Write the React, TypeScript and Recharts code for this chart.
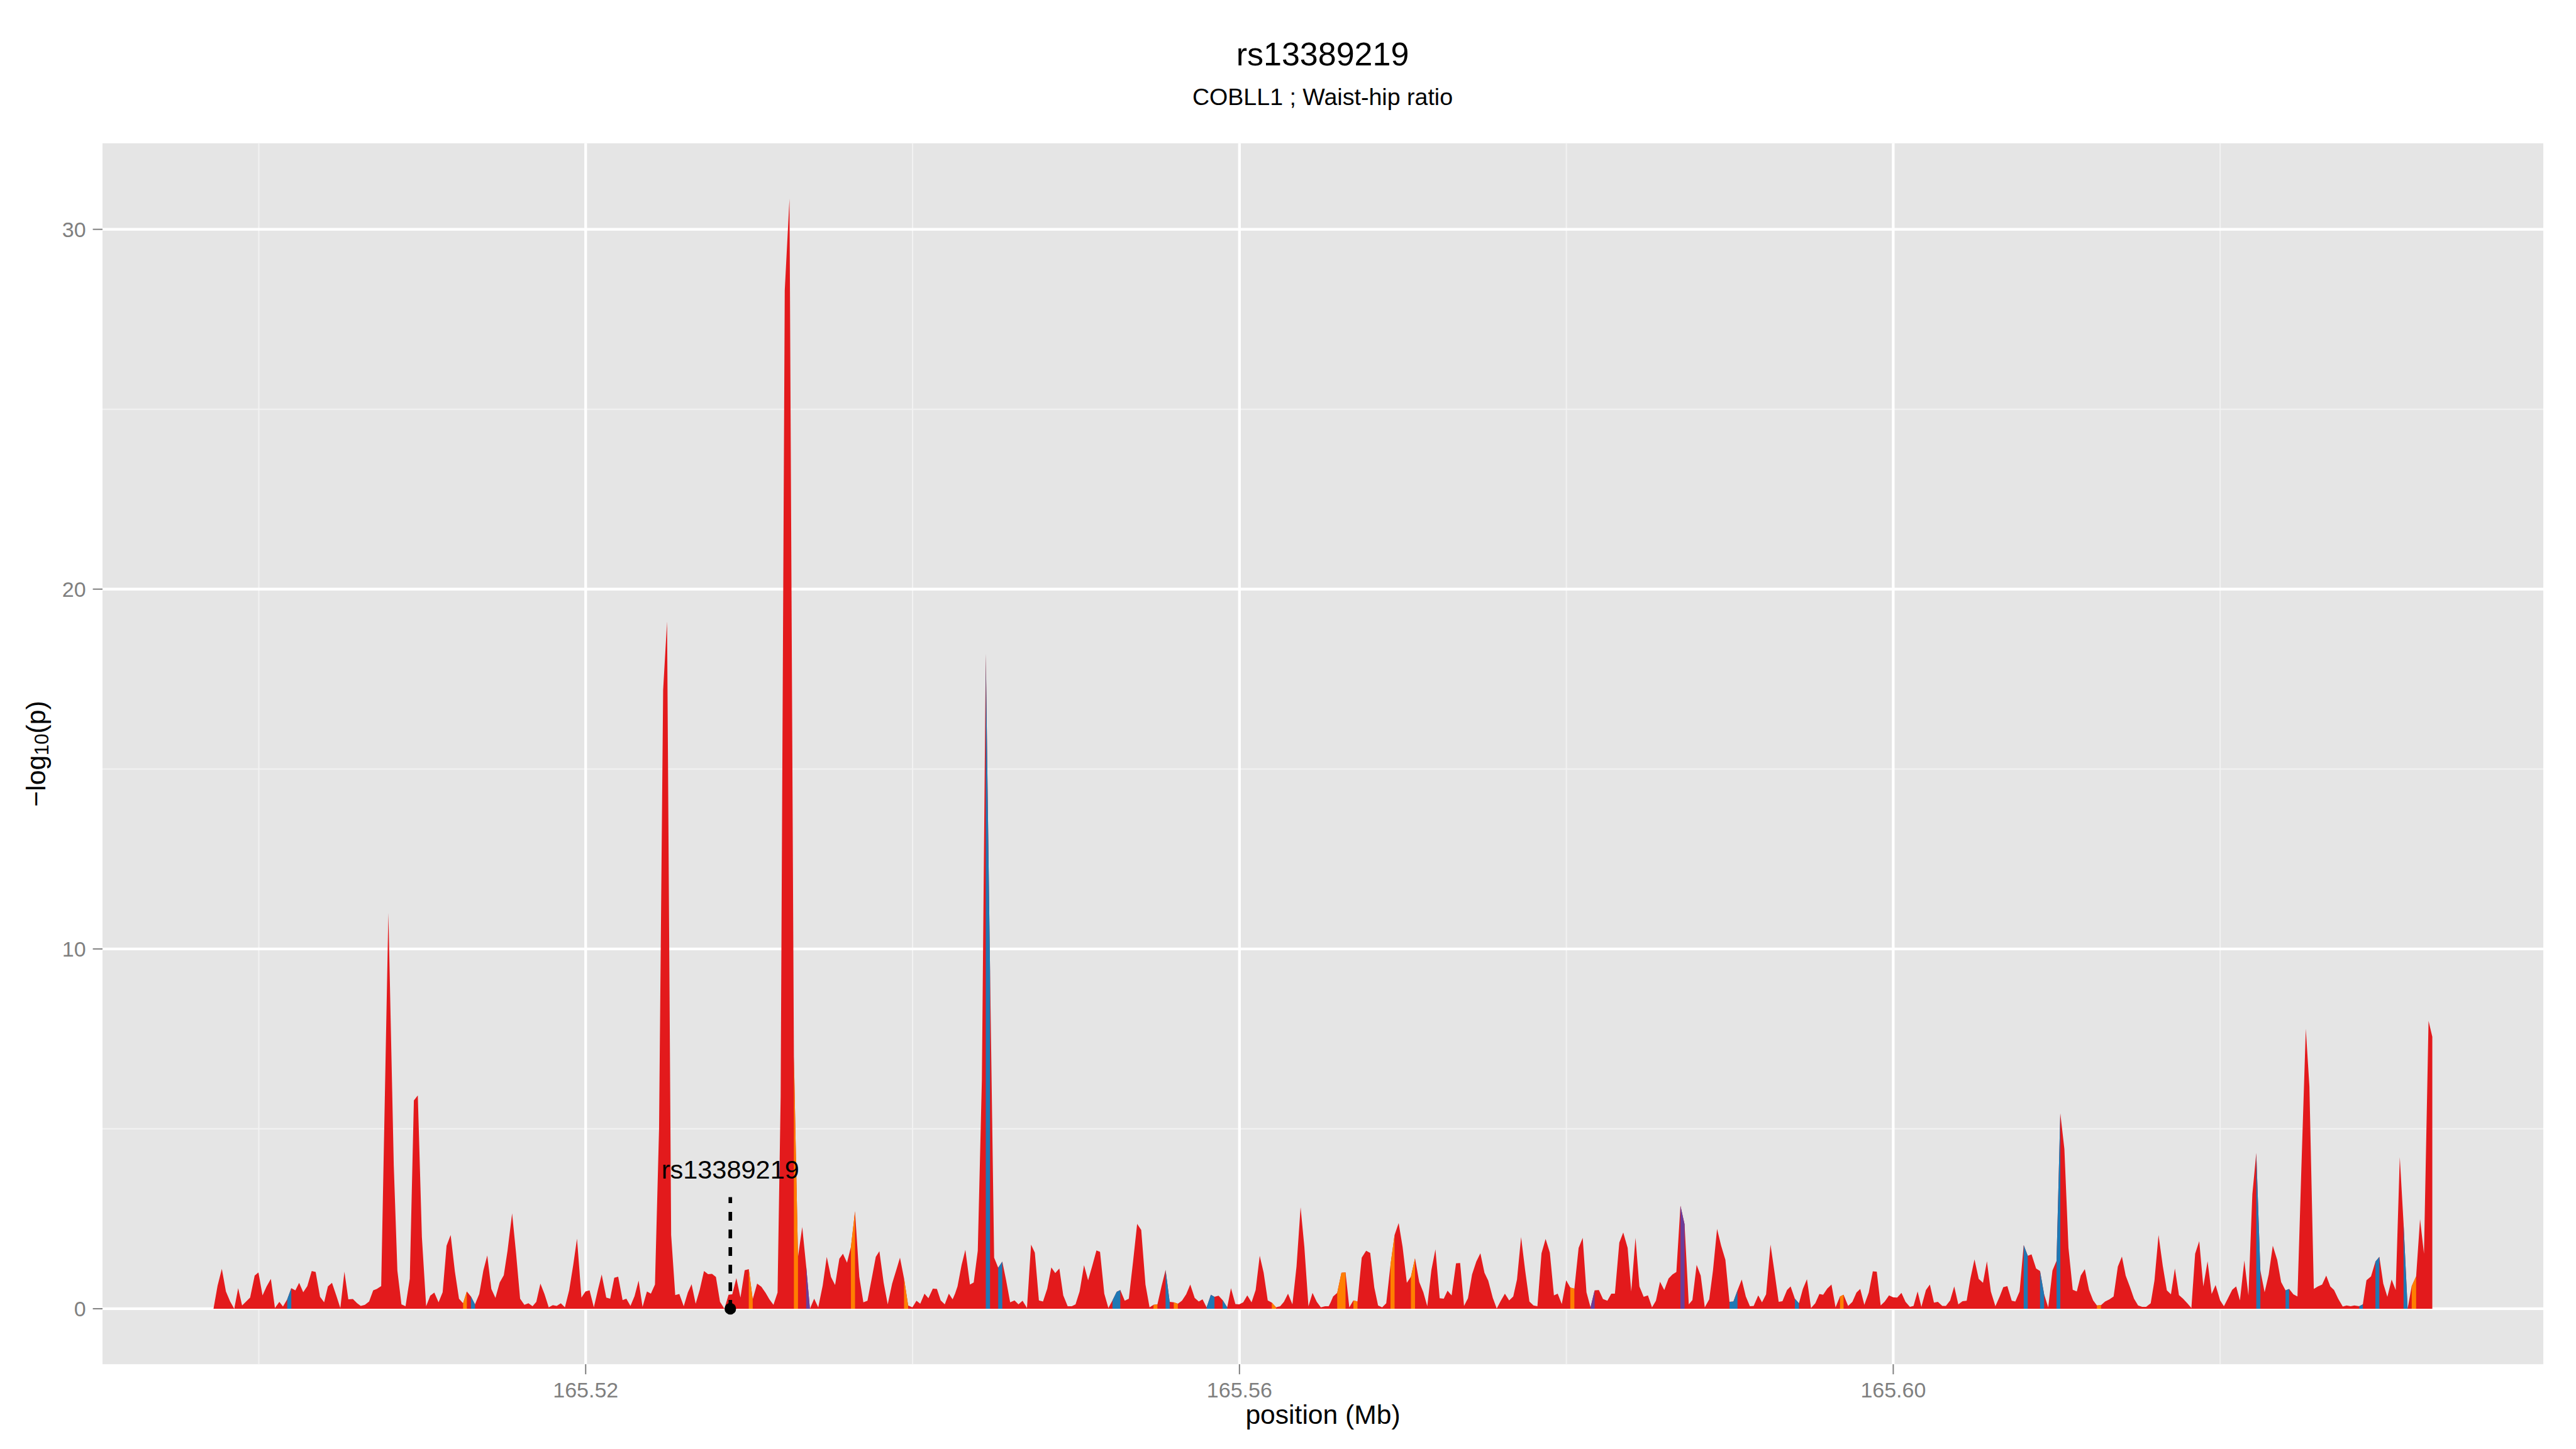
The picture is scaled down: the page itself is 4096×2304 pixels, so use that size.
import { Area, CartesianGrid, ComposedChart, ReferenceDot, ReferenceLine, XAxis, YAxis } from 'recharts';

const FONT = '"Liberation Sans", Arial, Helvetica, sans-serif';

const plotTitle = 'rs13389219';
const plotSubtitle = 'COBLL1 ; Waist-hip ratio';
const xTitle = 'position (Mb)';

// index SNP annotation
const indexSnp = 'rs13389219';
const indexPos = 165.52885;
const leaderTop = 3.1;
const labelY = 3.87;

const xTicks = [165.52, 165.56, 165.6];
const xMinor = [165.5, 165.54, 165.58, 165.62];
const yTicks = [0, 10, 20, 30];
const yMinor = [5, 15, 25];
const xDomain = [165.49044, 165.63977];
const yDomain = [-1.5425, 32.3925];

// [position (Mb), -log10(p)]
const snps: [number, number][] = [
  [165.49723, 0], [165.49748, 0.64], [165.49774, 1.11], [165.49799, 0.48], [165.49825, 0.2], [165.4985, 0],
  [165.49874, 0.57], [165.49898, 0.09], [165.49947, 0.31], [165.49975, 0.92], [165.49998, 1.01], [165.50023, 0.37],
  [165.50048, 0.62], [165.50074, 0.83], [165.50099, 0.02], [165.50126, 0.19], [165.50148, 0.06], [165.50174, 0.26],
  [165.50199, 0.57], [165.50224, 0.51], [165.50247, 0.72], [165.50272, 0.46], [165.50297, 0.63], [165.50324, 1.05],
  [165.50348, 1.02], [165.50375, 0.33], [165.504, 0.18], [165.50423, 0.62], [165.50448, 0.72], [165.50474, 0.37],
  [165.50499, 0.02], [165.50524, 1.03], [165.50548, 0.26], [165.50576, 0.27], [165.50602, 0.15], [165.50624, 0.08],
  [165.50649, 0.11], [165.50675, 0.2], [165.507, 0.51], [165.50722, 0.55], [165.50749, 0.63], [165.50793, 11.0],
  [165.50826, 3.98], [165.50848, 1.06], [165.50873, 0.12], [165.50898, 0.07], [165.50924, 0.84], [165.50949, 5.79],
  [165.50973, 5.93], [165.50998, 1.99], [165.51024, 0.07], [165.51049, 0.36], [165.51074, 0.45], [165.511, 0.18],
  [165.51125, 0.46], [165.51149, 1.75], [165.51174, 2.05], [165.512, 1.03], [165.51225, 0.28], [165.5125, 0.15],
  [165.51273, 0.48], [165.51298, 0.34], [165.51323, 0.12], [165.51349, 0.41], [165.51374, 1.06], [165.51398, 1.48],
  [165.51423, 0.55], [165.51448, 0.3], [165.51474, 0.73], [165.51499, 0.93], [165.51522, 1.61], [165.5155, 2.65],
  [165.51574, 1.55], [165.51599, 0.28], [165.51625, 0.11], [165.5165, 0.15], [165.51675, 0.07], [165.51698, 0.19],
  [165.51723, 0.7], [165.51748, 0.41], [165.51774, 0.04], [165.51799, 0.1], [165.51823, 0.08], [165.51848, 0.15],
  [165.51873, 0.04], [165.51899, 0.51], [165.51924, 1.22], [165.51947, 1.95], [165.51962, 1.06], [165.51974, 0.31],
  [165.51999, 0.48], [165.52024, 0.51], [165.5205, 0.04], [165.52075, 0.53], [165.52098, 0.95], [165.52126, 0.31],
  [165.5215, 0.28], [165.52175, 0.86], [165.52199, 0.89], [165.52226, 0.24], [165.52249, 0.28], [165.52274, 0.08],
  [165.52299, 0.35], [165.52324, 0.78], [165.52348, 0.05], [165.52375, 0.48], [165.52399, 0.42], [165.52424, 0.67],
  [165.52449, 5.0], [165.52474, 17.2], [165.52498, 19.1], [165.52523, 2.05], [165.52548, 0.38], [165.52573, 0.41],
  [165.526, 0.07], [165.52625, 0.45], [165.52648, 0.68], [165.52673, 0.14], [165.52698, 0.53], [165.52724, 1.05],
  [165.52749, 0.96], [165.52773, 0.97], [165.52797, 0.88], [165.52822, 0.19], [165.52849, 0], [165.52874, 0.39],
  [165.52897, 0.4], [165.52922, 0.85], [165.52947, 0.31], [165.52973, 1.07], [165.52998, 1.1], [165.53022, 0.26],
  [165.53049, 0.7], [165.53075, 0.61], [165.53101, 0.44], [165.53124, 0.26], [165.53149, 0.11], [165.53174, 0.45],
  [165.53193, 5.9], [165.53218, 28.3], [165.53247, 30.85], [165.53274, 7.0], [165.53299, 1.44], [165.53325, 2.27],
  [165.53349, 1.19], [165.53372, 0], [165.53398, 0.28], [165.53423, 0.04], [165.5345, 0.64], [165.53475, 1.44],
  [165.53501, 0.88], [165.53526, 0.66], [165.53552, 1.39], [165.53574, 1.53], [165.53599, 1.28], [165.53623, 1.72],
  [165.53648, 2.71], [165.53674, 0.89], [165.53699, 0.18], [165.53724, 0.22], [165.5375, 0.84], [165.53775, 1.44],
  [165.53797, 1.6], [165.53823, 0.73], [165.53848, 0.12], [165.53875, 0.7], [165.539, 1.07], [165.53923, 1.42],
  [165.53948, 0.84], [165.53973, 0.09], [165.53999, 0.04], [165.54024, 0.22], [165.54047, 0.14], [165.54073, 0.42],
  [165.54097, 0.29], [165.54124, 0.56], [165.54149, 0.55], [165.54172, 0.23], [165.54197, 0.12], [165.54222, 0.42],
  [165.54245, 0.26], [165.5426, 0.42], [165.54275, 0.62], [165.543, 1.22], [165.54323, 1.64], [165.54351, 0.67],
  [165.54374, 0.73], [165.54399, 1.61], [165.54424, 6.35], [165.54448, 18.2], [165.54474, 9.4], [165.54499, 1.42],
  [165.54524, 1.14], [165.54549, 1.31], [165.54572, 0.8], [165.54597, 0.18], [165.54624, 0.23], [165.54648, 0.12],
  [165.54673, 0.22], [165.547, 0.02], [165.54725, 1.78], [165.54748, 1.56], [165.54773, 0.23], [165.54798, 0.2],
  [165.54824, 0.56], [165.54849, 1.15], [165.54873, 0.99], [165.54898, 1.12], [165.54922, 0.37], [165.54949, 0.07],
  [165.54974, 0.07], [165.54997, 0.12], [165.55022, 0.48], [165.55049, 1.21], [165.55074, 0.79], [165.55098, 1.17],
  [165.55125, 1.62], [165.55147, 1.58], [165.55173, 0.42], [165.55198, 0.02], [165.55223, 0.23], [165.55249, 0.47],
  [165.55271, 0.52], [165.55298, 0.22], [165.55323, 0.28], [165.55349, 1.31], [165.55374, 2.36], [165.55399, 2.19],
  [165.55425, 0.67], [165.5545, 0.04], [165.55474, 0.11], [165.55498, 0.12], [165.55523, 0.62], [165.55548, 1.08],
  [165.55573, 0.19], [165.55598, 0.18], [165.55623, 0.14], [165.55648, 0.22], [165.55674, 0.4], [165.55699, 0.67],
  [165.55726, 0.3], [165.55751, 0.2], [165.55774, 0.26], [165.55799, 0.04], [165.55825, 0.39], [165.55847, 0.33],
  [165.55872, 0.36], [165.55897, 0.24], [165.55925, 0.04], [165.55948, 0.57], [165.55975, 0.13], [165.55998, 0.12],
  [165.56023, 0.18], [165.56048, 0.37], [165.56074, 0.18], [165.56099, 0.52], [165.56124, 1.47], [165.56148, 1.0],
  [165.56173, 0.23], [165.56198, 0.17], [165.56224, 0.04], [165.56249, 0.07], [165.56272, 0.19], [165.56297, 0.42],
  [165.56324, 0.12], [165.56349, 1.17], [165.56374, 2.82], [165.56397, 1.72], [165.56422, 0.07], [165.56447, 0.44],
  [165.56473, 0.19], [165.56498, 0.04], [165.56524, 0.07], [165.56546, 0.07], [165.56558, 0.18], [165.56573, 0.34],
  [165.56598, 0.44], [165.56624, 1.0], [165.56649, 1.01], [165.56672, 0.04], [165.56697, 0.23], [165.56722, 0.2],
  [165.56748, 1.42], [165.56775, 1.61], [165.568, 1.55], [165.56825, 0.59], [165.56848, 0.09], [165.56873, 0.04],
  [165.56898, 0.15], [165.56924, 1.22], [165.56949, 2.05], [165.56974, 2.38], [165.56998, 1.72], [165.57024, 0.72],
  [165.57049, 0.89], [165.57074, 1.4], [165.571, 0.74], [165.57125, 0.46], [165.57149, 0.07], [165.57174, 1.07],
  [165.57199, 1.65], [165.57225, 0.29], [165.5725, 0.28], [165.57273, 0.5], [165.57298, 0.37], [165.57325, 1.26],
  [165.5735, 1.27], [165.57374, 0.08], [165.57398, 0.29], [165.57423, 0.95], [165.57449, 1.31], [165.57474, 1.54],
  [165.57499, 1.0], [165.57522, 0.78], [165.5755, 0.3], [165.57574, 0.01], [165.57599, 0.22], [165.57624, 0.42],
  [165.5765, 0.23], [165.57675, 0.34], [165.57698, 0.81], [165.57723, 1.99], [165.57748, 1.06], [165.57774, 0.2],
  [165.57799, 0.09], [165.57823, 0.07], [165.57848, 1.54], [165.57873, 1.94], [165.57899, 1.56], [165.57924, 0.37],
  [165.57947, 0.42], [165.57972, 0.13], [165.57999, 0.79], [165.58024, 0.59], [165.58049, 0.56], [165.58075, 1.69],
  [165.581, 1.97], [165.58123, 0.46], [165.58148, 0.04], [165.58173, 0.51], [165.58199, 0.52], [165.58224, 0.27],
  [165.58251, 0.22], [165.58275, 0.42], [165.58297, 0.42], [165.58324, 1.84], [165.58348, 2.12], [165.58375, 1.69],
  [165.58397, 0.48], [165.58423, 1.97], [165.58447, 0.62], [165.58473, 0.33], [165.58499, 0.37], [165.58524, 0.04],
  [165.58548, 0.22], [165.58573, 0.75], [165.58599, 0.52], [165.58625, 0.84], [165.58649, 0.95], [165.58673, 1.02],
  [165.58698, 2.86], [165.58723, 2.35], [165.58749, 0.12], [165.58771, 0.24], [165.58797, 1.22], [165.58822, 0.92],
  [165.58847, 0.04], [165.58874, 0.26], [165.58897, 1.06], [165.58922, 2.22], [165.58947, 1.75], [165.58973, 1.36],
  [165.58998, 0.19], [165.59022, 0.2], [165.59047, 0.51], [165.59073, 0.81], [165.59098, 0.34], [165.59123, 0.07],
  [165.59146, 0.08], [165.59174, 0.37], [165.59197, 0.18], [165.59222, 0.4], [165.59249, 1.78], [165.59274, 1.0],
  [165.59299, 0.19], [165.59322, 0.21], [165.5935, 0.52], [165.59372, 0.62], [165.59398, 0.28], [165.59423, 0.15],
  [165.59447, 0.55], [165.59472, 0.82], [165.59497, 0.02], [165.59523, 0.15], [165.59548, 0.41], [165.59571, 0.39],
  [165.59596, 0.56], [165.59622, 0.67], [165.59647, 0.04], [165.59674, 0.34], [165.59696, 0.39], [165.59724, 0.08],
  [165.5975, 0.19], [165.59775, 0.45], [165.59798, 0.55], [165.59823, 0.11], [165.5985, 0.45], [165.59875, 1.04],
  [165.59899, 1.03], [165.59923, 0.09], [165.59948, 0.2], [165.59974, 0.37], [165.59999, 0.32], [165.60024, 0.31],
  [165.6005, 0.44], [165.60075, 0.19], [165.60102, 0.05], [165.60124, 0.08], [165.60149, 0.48], [165.60172, 0.05],
  [165.602, 0.52], [165.60224, 0.67], [165.60249, 0.17], [165.60273, 0.19], [165.603, 0.08], [165.60322, 0.08],
  [165.60348, 0.23], [165.60373, 0.62], [165.60398, 0.12], [165.60424, 0.21], [165.60449, 0.22], [165.60472, 0.84],
  [165.60497, 1.37], [165.60523, 0.83], [165.60549, 0.72], [165.60573, 1.32], [165.60597, 0.48], [165.60625, 0.07],
  [165.60652, 0.35], [165.60673, 0.6], [165.60698, 0.63], [165.60725, 0.22], [165.60747, 0.2], [165.60773, 0.48],
  [165.60798, 1.77], [165.60823, 1.47], [165.60846, 1.51], [165.60874, 1.12], [165.60898, 1.05], [165.60923, 0.4],
  [165.60948, 0.04], [165.60974, 1.06], [165.60999, 1.33], [165.61022, 5.43], [165.61047, 4.44], [165.61072, 1.69],
  [165.61098, 0.53], [165.61123, 0.48], [165.61147, 0.92], [165.61172, 1.1], [165.61198, 0.52], [165.61223, 0.23],
  [165.61246, 0.09], [165.61271, 0.1], [165.61296, 0.2], [165.61323, 0.26], [165.61348, 0.34], [165.61374, 1.17],
  [165.61399, 1.45], [165.61422, 0.92], [165.61447, 0.62], [165.61473, 0.28], [165.61498, 0.09], [165.61523, 0.05],
  [165.61547, 0.05], [165.61575, 0.15], [165.61598, 0.78], [165.61623, 2.05], [165.61649, 1.19], [165.61674, 0.51],
  [165.61699, 0.4], [165.61723, 1.12], [165.61748, 0.38], [165.61773, 0.28], [165.61799, 0.15], [165.61824, 0.02],
  [165.61847, 1.53], [165.61872, 1.88], [165.61897, 0.62], [165.61923, 1.32], [165.61948, 0.41], [165.61972, 0.66],
  [165.62, 0.23], [165.62023, 0.07], [165.62048, 0.29], [165.62074, 0.53], [165.62098, 0.62], [165.62121, 0.23],
  [165.62148, 1.34], [165.62173, 0.37], [165.62197, 3.18], [165.62221, 4.33], [165.62246, 1.06], [165.62272, 0.46],
  [165.62297, 0.95], [165.62322, 1.75], [165.62349, 1.36], [165.62373, 0.74], [165.624, 0.51], [165.62422, 0.55],
  [165.62448, 0.4], [165.62473, 0.34], [165.62497, 3.92], [165.62524, 7.78], [165.62546, 6.18], [165.62573, 0.55],
  [165.62598, 0.62], [165.62624, 0.67], [165.62649, 0.92], [165.62674, 0.62], [165.62697, 0.52], [165.62722, 0.28],
  [165.6275, 0.06], [165.62774, 0.09], [165.62798, 0.07], [165.62821, 0.09], [165.62851, 0.07], [165.62873, 0.12],
  [165.62895, 0.79], [165.62923, 0.9], [165.6295, 1.31], [165.62974, 1.44], [165.62998, 0.7], [165.63023, 0.33],
  [165.63049, 0.81], [165.63074, 0.52], [165.63099, 4.21], [165.63122, 2.38], [165.63147, 0.01], [165.63172, 0.63],
  [165.63199, 0.9], [165.63223, 2.49], [165.63247, 1.53], [165.63275, 8.0], [165.63298, 7.56],
];

// LD-coloured stretches [from, to] in Mb
const blueStrips: [number, number][] = [
  [165.50174, 165.50199], [165.51298, 165.51323], [165.54448, 165.54474], [165.54524, 165.54549],
  [165.55223, 165.55271], [165.55548, 165.55573], [165.55799, 165.55847], [165.55897, 165.55925],
  [165.58998, 165.59047], [165.59398, 165.59423], [165.60798, 165.60823], [165.60898, 165.60923],
  [165.60999, 165.61022], [165.62221, 165.62246], [165.624, 165.62422], [165.62851, 165.62873],
  [165.6295, 165.62974], [165.63122, 165.63147],
];
const orangeStrips: [number, number][] = [
  [165.5125, 165.51273], [165.52998, 165.53022], [165.53274, 165.53299], [165.53623, 165.53648],
  [165.53948, 165.53973], [165.55474, 165.55498], [165.55598, 165.55623], [165.56198, 165.56224],
  [165.56598, 165.56649], [165.56697, 165.56722], [165.56924, 165.56949], [165.57049, 165.57074],
  [165.58024, 165.58049], [165.59674, 165.59696], [165.61246, 165.61271], [165.63172, 165.63199],
];
const purpleStrips: [number, number][] = [
  [165.53349, 165.53372], [165.58148, 165.58173], [165.58698, 165.58723],
];

const RED = '#E31A1C';
const BLUE = '#1F78B4';
const ORANGE = '#FF7F00';
const PURPLE = '#6A3D9A';
const GREY = '#7F7F7F';

const inStrip = (pos: number, strips: [number, number][]) =>
  strips.some(([a, b]) => pos >= a - 1e-7 && pos <= b + 1e-7);

const data = snps.map(([pos, p]) => ({
  pos,
  red: p,
  blue: inStrip(pos, blueStrips) ? p : null,
  orange: inStrip(pos, orangeStrips) ? p : null,
  purple: inStrip(pos, purpleStrips) ? p : null,
}));

function YTitle({ viewBox }: any) {
  const cx = 57;
  const cy = viewBox.y + viewBox.height / 2;
  return (
    <text
      x={cx}
      y={cy}
      transform={`rotate(-90, ${cx}, ${cy})`}
      textAnchor="middle"
      dominantBaseline="central"
      fontFamily={FONT}
      fontSize={42.6}
      fill="#000"
    >
      −log
      <tspan fontSize={31} dy={9}>10</tspan>
      <tspan dy={-9}>(p)</tspan>
    </text>
  );
}

export default function App() {
  return (
    <div style={{ position: 'absolute', left: 0, top: 0, width: 4096, height: 2304, background: '#fff', fontFamily: FONT }}>
      <div style={{ position: 'absolute', left: 2103, top: 86, transform: 'translate(-50%, -50%)', fontSize: 52, whiteSpace: 'nowrap', color: '#000' }}>
        {plotTitle}
      </div>
      <div style={{ position: 'absolute', left: 2103, top: 154, transform: 'translate(-50%, -50%)', fontSize: 37.6, whiteSpace: 'nowrap', color: '#000' }}>
        {plotSubtitle}
      </div>
      <ComposedChart
        width={4096}
        height={2304}
        data={data}
        margin={{ top: 227.8, right: 52, left: 0, bottom: 0 }}
        style={{ position: 'absolute', left: 0, top: 0 }}
      >
        <CartesianGrid
          fill="#E5E5E5"
          stroke="#F2F2F2"
          strokeWidth={2.1}
          horizontalValues={yMinor}
          verticalValues={xMinor}
        />
        <CartesianGrid stroke="#FFFFFF" strokeWidth={4.3} horizontalValues={yTicks} verticalValues={xTicks} />
        <XAxis
          dataKey="pos"
          type="number"
          scale="linear"
          domain={xDomain}
          allowDataOverflow
          ticks={xTicks}
          interval={0}
          tickFormatter={(v: number) => v.toFixed(2)}
          height={134.8}
          axisLine={false}
          tickSize={16}
          tickMargin={13}
          tickLine={{ stroke: GREY, strokeWidth: 2 }}
          tick={{ fill: GREY, fontSize: 34, fontFamily: FONT }}
          label={{ value: xTitle, position: 'insideBottom', offset: 40, fill: '#000', fontSize: 42.6, fontFamily: FONT }}
        />
        <YAxis
          type="number"
          domain={yDomain}
          allowDataOverflow
          ticks={yTicks}
          interval={0}
          width={163}
          axisLine={false}
          tickSize={15.4}
          tickMargin={11}
          tickLine={{ stroke: GREY, strokeWidth: 2 }}
          tick={{ fill: GREY, fontSize: 34, fontFamily: FONT }}
          label={(props: any) => <YTitle {...props} />}
        />
        <Area type="linear" dataKey="red" baseValue={0} stroke="none" fill={RED} fillOpacity={1} isAnimationActive={false} />
        <Area type="linear" dataKey="blue" baseValue={0} stroke="none" fill={BLUE} fillOpacity={1} isAnimationActive={false} />
        <Area type="linear" dataKey="orange" baseValue={0} stroke="none" fill={ORANGE} fillOpacity={1} isAnimationActive={false} />
        <Area type="linear" dataKey="purple" baseValue={0} stroke="none" fill={PURPLE} fillOpacity={1} isAnimationActive={false} />
        <ReferenceLine
          segment={[{ x: indexPos, y: 0 }, { x: indexPos, y: leaderTop }]}
          stroke="#000"
          strokeWidth={5.7}
          strokeDasharray="14 14"
        />
        <ReferenceDot x={indexPos} y={0} r={9.2} fill="#000" stroke="none" />
        <ReferenceDot
          x={indexPos}
          y={labelY}
          r={0}
          shape={(p: any) => (
            <text
              x={p.cx}
              y={p.cy}
              textAnchor="middle"
              dominantBaseline="central"
              fontFamily={FONT}
              fontSize={41.5}
              fill="#000"
            >
              {indexSnp}
            </text>
          )}
        />
      </ComposedChart>
    </div>
  );
}
